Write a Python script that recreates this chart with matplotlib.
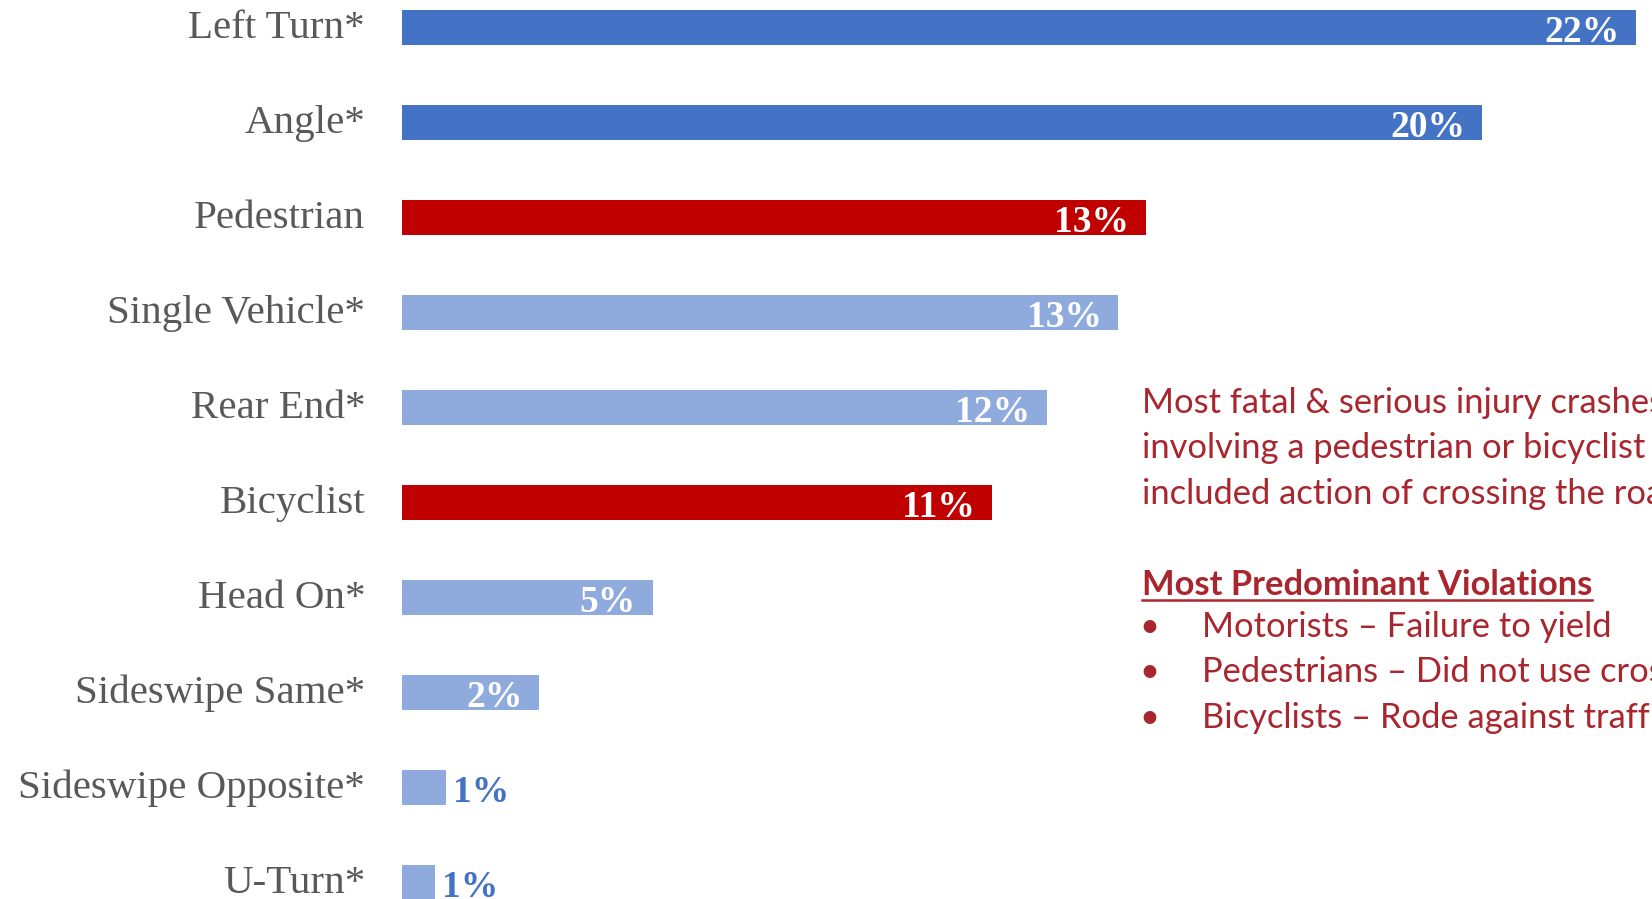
import matplotlib
matplotlib.use("Agg")
import matplotlib.pyplot as plt
from matplotlib.lines import Line2D

# ---------------- data ----------------
categories = ["Left Turn*", "Angle*", "Pedestrian", "Single Vehicle*", "Rear End*",
              "Bicyclist", "Head On*", "Sideswipe Same*", "Sideswipe Opposite*", "U-Turn*"]
values = [22.4, 19.6, 13.5, 13.0, 11.7, 10.7, 4.55, 2.49, 0.8, 0.6]
labels = ["22%", "20%", "13%", "13%", "12%", "11%", "5%", "2%", "1%", "1%"]
bar_colors = ["#4472C4", "#4472C4", "#C00000", "#8FAADC", "#8FAADC",
              "#C00000", "#8FAADC", "#8FAADC", "#8FAADC", "#8FAADC"]

note_lines = ["Most fatal & serious injury crashes",
              "involving a pedestrian or bicyclist",
              "included action of crossing the road"]
heading = "Most Predominant Violations"
bullets = ["Motorists \u2013 Failure to yield",
           "Pedestrians \u2013 Did not use crosswalk",
           "Bicyclists \u2013 Rode against traffic"]

# ---------------- figure ----------------
W, H, DPI = 1652, 899, 100
fig = plt.figure(figsize=(W / DPI, H / DPI), dpi=DPI)
fig.patch.set_facecolor("white")
ax = fig.add_axes([0, 0, 1, 1])
ax.set_axis_off()

px_per_unit_x = 55.1
x0_px = 402
ax.set_xlim(-x0_px / px_per_unit_x, (W - x0_px) / px_per_unit_x)
pitch = 95.0
top_c = 27.5
ax.set_ylim((H - top_c) / pitch, -top_c / pitch)

ypos = list(range(len(categories)))
ax.barh(ypos, values, height=0.358, color=bar_colors, edgecolor="none")

serif = ["Liberation Serif", "DejaVu Serif"]
for i, (cat, v, lab) in enumerate(zip(categories, values, labels)):
    ax.text(-0.67, i + 0.115, cat, ha="right", va="baseline",
            fontsize=29.5, color="#595959", family=serif)
    if v >= 1.5:
        ax.annotate(lab, xy=(v, i + 0.15), xytext=(-12, 0), textcoords="offset points",
                    ha="right", va="baseline", fontsize=27, fontweight="bold",
                    color="white", family=serif)
    else:
        ax.annotate(lab, xy=(v, i + 0.15), xytext=(5, 0), textcoords="offset points",
                    ha="left", va="baseline", fontsize=27, fontweight="bold",
                    color="#4472C4", family=serif)

# ---------------- annotation text ----------------
red = "#A9262E"
sans = ["Lato", "DejaVu Sans"]
fs = 24.8
tx = 1142 / W
for k, line in enumerate(note_lines):
    fig.text(tx, 1 - (413 + 45.5 * k) / H, line, ha="left", va="baseline",
             fontsize=fs, color=red, family=sans)

h = fig.text(tx, 1 - 595 / H, heading, ha="left", va="baseline",
             fontsize=fs, fontweight="bold", color=red, family=sans)
fig.canvas.draw()
bb = h.get_window_extent(fig.canvas.get_renderer())
fig.add_artist(Line2D([bb.x0 / W, bb.x1 / W], [1 - 600 / H, 1 - 600 / H],
                      transform=fig.transFigure, color=red, linewidth=1.8))

for k, b in enumerate(bullets):
    y = 1 - (637 + 45.5 * k) / H
    fig.text(1139 / W, y, "\u2022", ha="left", va="baseline",
             fontsize=fs, color=red, family=sans)
    fig.text(1202 / W, y, b, ha="left", va="baseline",
             fontsize=fs, color=red, family=sans)

fig.savefig("out.png", dpi=DPI)
